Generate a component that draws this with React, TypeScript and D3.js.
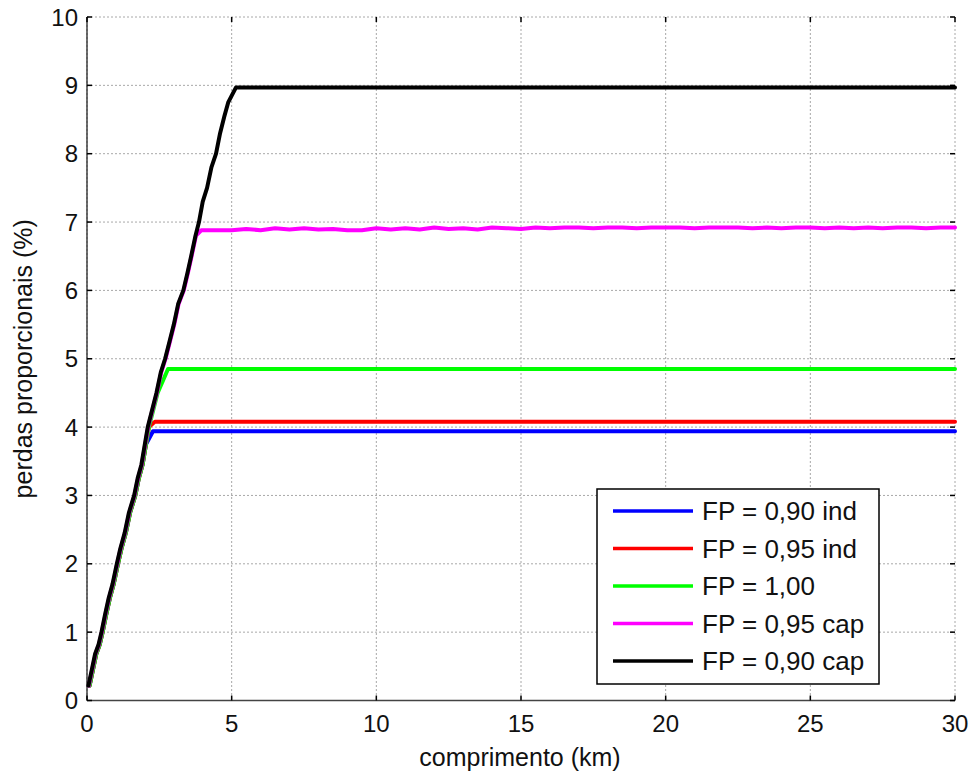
import React from "react";
import * as d3 from "d3";

const W = 973;
const H = 774;
const M = { left: 87, right: 955, top: 17, bottom: 700.5 };

const xTicks = [0, 5, 10, 15, 20, 25, 30];
const yTicks = [0, 1, 2, 3, 4, 5, 6, 7, 8, 9, 10];

const seriesNames = ["FP = 0,90 ind", "FP = 0,95 ind", "FP = 1,00", "FP = 0,95 cap", "FP = 0,90 cap"];
const seriesColors = ["#0000ff", "#ff0000", "#00ff00", "#ff00ff", "#000000"];

// ramp shared by all curves
const rampX = [0.05, 0.15, 0.28, 0.4, 0.5, 0.62, 0.75, 0.88, 1.03, 1.15, 1.3, 1.45, 1.63, 1.75, 1.88, 2.0, 2.1, 2.25, 2.4, 2.55, 2.7, 2.85, 3.0, 3.15, 3.33, 3.47, 3.6, 3.75, 3.87, 4.0, 4.15, 4.3, 4.46, 4.6, 4.75, 4.88, 4.97, 5.05, 5.15];
const rampY = [0.22, 0.42, 0.68, 0.82, 1.0, 1.25, 1.5, 1.7, 2.0, 2.22, 2.45, 2.75, 3.0, 3.25, 3.45, 3.75, 4.0, 4.25, 4.5, 4.8, 5.0, 5.25, 5.5, 5.8, 6.0, 6.25, 6.5, 6.8, 7.0, 7.3, 7.5, 7.8, 8.0, 8.3, 8.55, 8.75, 8.92, 8.97, 8.97];

// flat levels / break points of each curve
const breakX = [2.28, 2.35, 2.8, 3.95, 5.15];
const flatLevel = [3.94, 4.08, 4.85, 6.88, 8.97];

// magenta curve wiggle on plateau, x from 4 km to 30 km in 0.5 km steps
const pinkFlat = [6.88, 6.88, 6.88, 6.90, 6.88, 6.91, 6.89, 6.91, 6.89, 6.90, 6.88, 6.88, 6.91, 6.89, 6.91, 6.89, 6.92, 6.90, 6.91, 6.89, 6.92, 6.91, 6.90, 6.92, 6.91, 6.92, 6.92, 6.91, 6.92, 6.92, 6.91, 6.92, 6.92, 6.92, 6.91, 6.92, 6.92, 6.92, 6.91, 6.92, 6.91, 6.92, 6.92, 6.91, 6.92, 6.91, 6.92, 6.91, 6.92, 6.92, 6.91, 6.92, 6.92];

const x = d3.scaleLinear().domain([0, 30]).range([M.left, M.right]);
const y = d3.scaleLinear().domain([0, 10]).range([M.bottom, M.top]);

function buildSeries(i: number): [number, number][] {
  const pts: [number, number][] = [];
  const lag = i < 3 ? 0.04 : 0.015;
  for (let k = 0; k < rampX.length; k++) {
    const xx = rampX[k] + (i === 4 ? 0 : lag);
    if (rampY[k] < flatLevel[i] - 0.05 && xx < breakX[i]) pts.push([xx, rampY[k]]);
  }
  pts.push([breakX[i], flatLevel[i]]);
  if (i === 3) {
    pinkFlat.forEach((v, j) => {
      const xx = 4 + j * 0.5;
      if (xx > breakX[i]) pts.push([xx, v]);
    });
  } else {
    pts.push([30, flatLevel[i]]);
  }
  return pts;
}

const line = d3.line<[number, number]>().x((d) => x(d[0])).y((d) => y(d[1]));

const FONT = "'Liberation Sans', Arial, sans-serif";

export default function App() {
  const legend = { x0: 597, y0: 489, x1: 879, y1: 684 };
  const rowH = 37.5;
  return (
    <svg width={W} height={H} style={{ position: "absolute", left: 0, top: 0, background: "#fff" }} fontFamily={FONT}>
      <rect x={0} y={0} width={W} height={H} fill="#fff" />
      {/* grid */}
      {xTicks.map((t) => (
        <line key={"gx" + t} x1={x(t)} x2={x(t)} y1={M.top} y2={M.bottom} stroke="#a8a8a8" strokeWidth={1} strokeDasharray="2,2" />
      ))}
      {yTicks.map((t) => (
        <line key={"gy" + t} x1={M.left} x2={M.right} y1={y(t)} y2={y(t)} stroke="#a8a8a8" strokeWidth={1} strokeDasharray="2,2" />
      ))}
      {/* axes */}
      <line x1={M.left} x2={M.left} y1={M.top} y2={M.bottom} stroke="#222" strokeWidth={1.3} />
      <line x1={M.left} x2={M.right} y1={M.bottom} y2={M.bottom} stroke="#444" strokeWidth={1.3} />
      {xTicks.map((t) => (
        <g key={"tx" + t}>
          <line x1={x(t)} x2={x(t)} y1={M.bottom} y2={M.bottom - 5} stroke="#000" strokeWidth={1.5} />
          <line x1={x(t)} x2={x(t)} y1={M.top} y2={M.top + 5} stroke="#000" strokeWidth={1.5} />
          <text x={x(t)} y={732} fontSize={24} textAnchor="middle" fill="#111">{t}</text>
        </g>
      ))}
      {yTicks.map((t) => (
        <g key={"ty" + t}>
          <line x1={M.left} x2={M.left + 5} y1={y(t)} y2={y(t)} stroke="#000" strokeWidth={1.5} />
          <line x1={M.right} x2={M.right - 5} y1={y(t)} y2={y(t)} stroke="#000" strokeWidth={1.5} />
          <text x={78} y={y(t) + 8.5} fontSize={24} textAnchor="end" fill="#111">{t}</text>
        </g>
      ))}
      {/* series */}
      {seriesNames.map((n, i) => (
        <path key={n} d={line(buildSeries(i)) || ""} fill="none" stroke={seriesColors[i]} strokeWidth={4} strokeLinejoin="round" strokeLinecap="round" />
      ))}
      {/* axis labels */}
      <text x={520} y={766} fontSize={25} textAnchor="middle" fill="#111">comprimento (km)</text>
      <text transform={`translate(32, ${y(5)}) rotate(-90)`} fontSize={25} textAnchor="middle" fill="#111">perdas proporcionais (%)</text>
      {/* legend */}
      <rect x={legend.x0} y={legend.y0} width={legend.x1 - legend.x0} height={legend.y1 - legend.y0} fill="#fff" stroke="#000" strokeWidth={1.5} />
      {seriesNames.map((n, i) => {
        const cy = 511 + i * rowH;
        return (
          <g key={"lg" + n}>
            <line x1={613} x2={693} y1={cy} y2={cy} stroke={seriesColors[i]} strokeWidth={3.5} />
            <text x={702} y={cy + 9} fontSize={26} fill="#111">{n}</text>
          </g>
        );
      })}
    </svg>
  );
}
